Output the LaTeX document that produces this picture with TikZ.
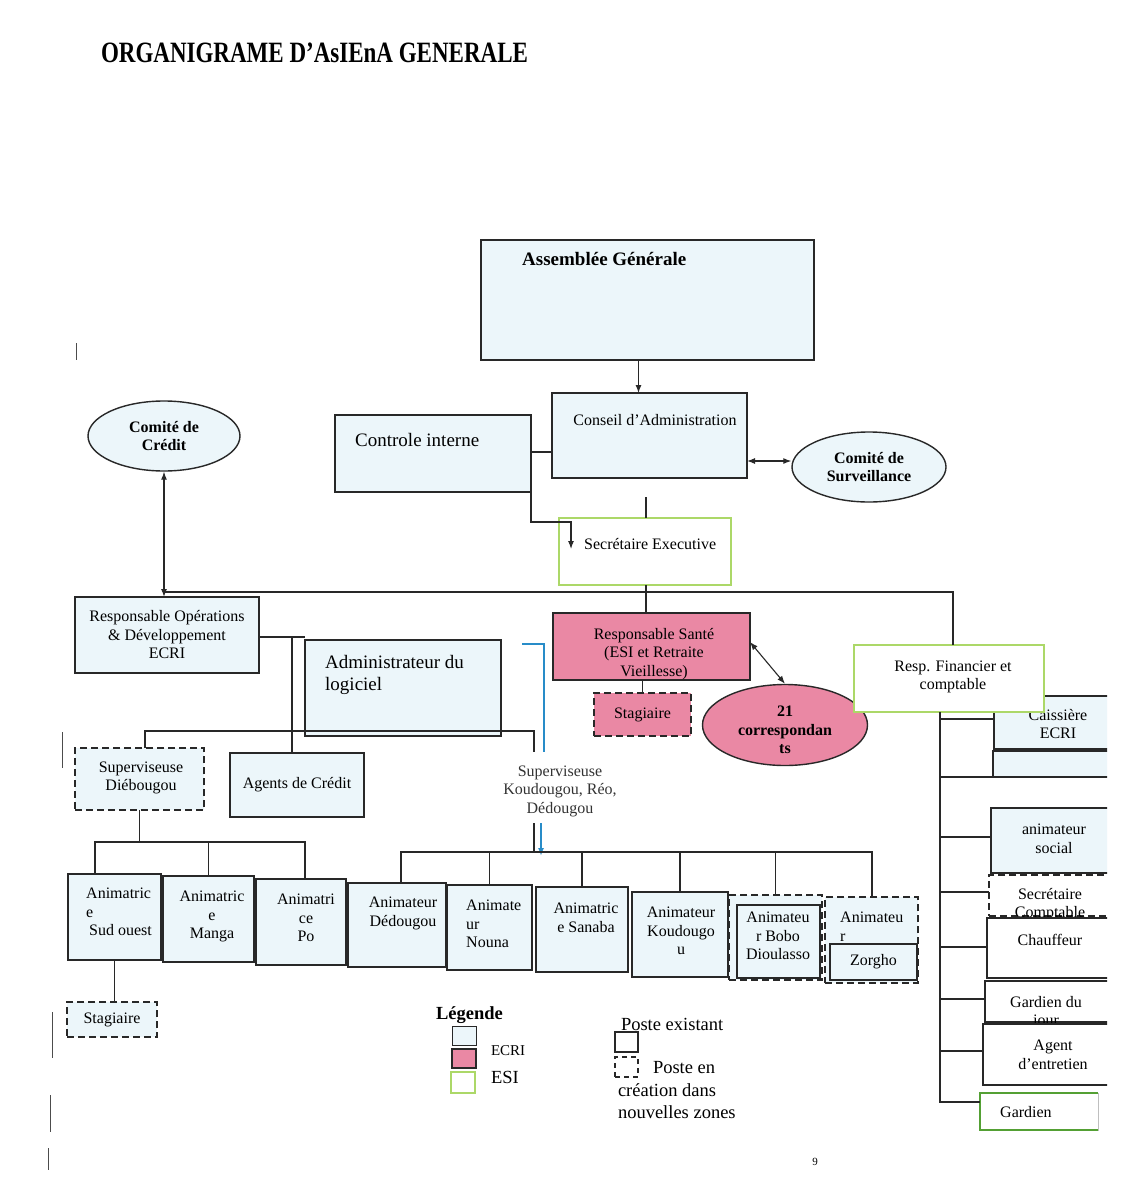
\documentclass[tikz,border=0pt]{standalone}
\usepackage{fontspec}
\setmainfont{Liberation Serif}
\usetikzlibrary{arrows.meta,shapes.geometric,fit,calc}
\definecolor{boxblue}{RGB}{236,246,250}
\definecolor{ecripink}{RGB}{234,136,164}
\definecolor{esigreen}{RGB}{172,216,104}
\definecolor{darkgreen}{RGB}{84,160,52}
\definecolor{bracketblue}{RGB}{40,140,200}
\definecolor{linegray}{RGB}{40,40,40}
\tikzset{
 base/.style={inner sep=0pt, outer sep=0pt},
 bx/.style={base, draw=linegray, line width=1.3pt, fill=boxblue},
 thickbx/.style={bx, line width=2.4pt},
 dashbx/.style={bx, dash pattern=on 7pt off 4pt},
 esibx/.style={base, draw=esigreen, line width=2.4pt, fill=white},
 pinkbx/.style={base, draw=linegray, line width=2.4pt, fill=ecripink},
 ell/.style={ellipse, draw=linegray, line width=1.4pt, fill=boxblue, inner sep=0pt},
 txt/.style={inner sep=0pt, font=\fontsize{16}{18.5}\selectfont, align=center},
 btxt/.style={txt, font=\fontsize{16}{18.5}\selectfont\bfseries},
 big/.style={txt, font=\fontsize{19}{22}\selectfont, align=left},
 con/.style={draw=linegray, line width=1.1pt},
 arr/.style={con, -{Latex[length=8pt,width=6pt]}},
 darr/.style={con, {Latex[length=8pt,width=6pt]}-{Latex[length=8pt,width=6pt]}},
 bluearr/.style={draw=bracketblue, line width=1.8pt, -{Latex[length=8pt,width=6pt]}},
 scanmark/.style={draw=black!70, line width=1pt},
}
\begin{document}
\begin{tikzpicture}[x=1pt,y=-1pt]
\useasboundingbox (0,0) rectangle (1131,1194);
\fill[white] (0,0) rectangle (1131,1194);

% margin marks
\draw[scanmark] (76,343) -- (76,360);
\draw[scanmark] (62,732) -- (62,768);
\draw[scanmark] (52,1012) -- (52,1058);
\draw[scanmark] (50,1095) -- (50,1132);
\draw[scanmark] (48,1148) -- (48,1170);

% title
\node[base, anchor=base west, font=\fontsize{29.5}{32}\selectfont\bfseries] (title) at (101,62) {\scalebox{0.78}[1]{ORGANIGRAME D’AsIEnA GENERALE}};

% top
\node[bx, fit={(481,240) (814,360)}] (AG) {};
\node[btxt, font=\fontsize{19}{22}\selectfont\bfseries, anchor=base west] (AGt) at (522,265) {Assemblée Générale};

\node[bx, fit={(552,393) (747,478)}] (CA) {};
\node[txt, anchor=base] (CAt) at (655,425) {Conseil d’Administration};

\node[thickbx, fit={(335,415) (531,492)}] (CI) {};
\node[big, anchor=base west] (CIt) at (355,446) {Controle interne};

\node[ell, minimum width=154pt, minimum height=70pt, btxt] (CS) at (869,467) {Comité de\\Surveillance};
\node[ell, minimum width=152pt, minimum height=70pt, btxt] (CC) at (164,436) {Comité de\\Crédit};

\node[esibx, fit={(559,518) (731,585)}] (SE) {};
\node[txt, anchor=base west] (SEt) at (584,549) {Secrétaire Executive};

% second level
\node[thickbx, fit={(75,597) (259,673)}] (RO) {};
\node[txt] (ROt) at (RO.center) {Responsable Opérations\\\& Développement\\ECRI};

\node[thickbx, fit={(305,640) (501,736)}] (AD) {};
\node[big, anchor=north west] (ADt) at (325,655) {Administrateur du\\logiciel};

\node[pinkbx, fit={(553,613) (750,680)}] (RS) {};
\node[txt, anchor=north] (RSt) at (654,628) {Responsable Santé\\(ESI et Retraite\\Vieillesse)};

\node[pinkbx, line width=1.6pt, dash pattern=on 7pt off 4pt, fit={(594,693) (691,736)}] (ST2) {};
\node[txt] (ST2t) at (ST2.center) {Stagiaire};

\node[ell, fill=ecripink, minimum width=165pt, minimum height=81pt] (C21) at (785,725) {};
\node[btxt, anchor=north] (C21t) at (785,706) {21\\correspondan\\ts};

% right column
\begin{scope}
\clip (0,0) rectangle (1107,1194);
\node[bx, fit={(994,696) (1125,749)}] (CE) {};
\node[txt, anchor=north] (CEt) at (1058,709) {Caissière\\ECRI};
\node[bx, fit={(993,751) (1125,777)}] (CE2) {};
\node[bx, fit={(991,808) (1125,873)}] (AS) {};
\node[txt] (ASt) at (1054,839) {animateur\\social};
\node[dashbx, fill=white, fit={(989,875) (1125,916)}] (SC) {};
\node[txt, anchor=north] (SCt) at (1050,888) {Secrétaire\\Comptable};
\node[bx, fill=white, fit={(987,918) (1125,978)}] (CH) {};
\node[txt] (CHt) at (1050,940) {Chauffeur};
\node[bx, fill=white, fit={(985,981) (1125,1022)}] (GJ) {};
\node[txt, anchor=north] (GJt) at (1046,996) {Gardien du\\jour};
\node[bx, fill=white, fit={(983,1024) (1125,1085)}] (AE) {};
\node[txt] (AEt) at (1053,1055) {Agent\\d’entretien};
\end{scope}
\node[base, draw=black!25, line width=0.8pt, fill=white, fit={(980,1093) (1098,1130)}] (GA) {};
\draw[darkgreen, line width=2.4pt] (GA.north east) -- (GA.north west) -- (GA.south west) -- (GA.south east);
\node[txt, anchor=west] (GAt) at (1000,1112) {Gardien};

\node[esibx, fit={(854,645) (1044,712)}] (RF) {};
\node[txt] (RFt) at (953,677) {Resp. Financier et\\comptable};

% third level
\node[dashbx, fit={(75,748) (204,810)}] (SD) {};
\node[txt] (SDt) at (141,778) {Superviseuse\\Diébougou};
\node[thickbx, line width=1.8pt, fit={(230,753) (364,817)}] (AC) {};
\node[txt] (ACt) at (AC.center) {Agents de Crédit};
\node[txt, text=black!80] (SK) at (560,791) {Superviseuse\\Koudougou, Réo,\\Dédougou};

% animators
\node[bx, fit={(68,874) (161,960)}] (ASO) {};
\node[txt, align=left, anchor=north west] (ASOt) at (86,888) {Animatric\\e\\\hspace{3pt}Sud ouest};
\node[bx, fit={(163,876) (254,962)}] (AMa) {};
\node[txt, anchor=north] (AMat) at (212,891) {Animatric\\e\\Manga};
\node[bx, fit={(256,879) (346,965)}] (APo) {};
\node[txt, anchor=north] (APot) at (306,894) {Animatri\\ce\\Po};
\node[bx, fit={(348,883) (446,967)}] (ADe) {};
\node[txt, anchor=north] (ADet) at (403,897) {Animateur\\Dédougou};
\node[bx, fit={(447,885) (532,970)}] (ANo) {};
\node[txt, align=left, anchor=north west] (ANot) at (466,900) {Animate\\ur\\Nouna};
\node[bx, fit={(536,887) (628,972)}] (ASa) {};
\node[txt, anchor=north] (ASat) at (586,903) {Animatric\\e Sanaba};
\node[bx, fit={(632,892) (728,977)}] (AKo) {};
\node[txt, anchor=north] (AKot) at (681,907) {Animateur\\Koudougo\\u};
\node[dashbx, fit={(729,895) (822,980)}] (ABo) {};
\node[bx, fill=none, line width=1.1pt, fit={(737,905) (820,978)}] (ABi) {};
\node[txt, anchor=north] (ABot) at (778,912) {Animateu\\r Bobo\\Dioulasso};
\node[dashbx, fit={(825,897) (918,983)}] (AZo) {};
\node[bx, line width=1.1pt, fit={(830,944) (917,980)}] (AZi) {};
\node[txt] (AZit) at (AZi.center) {Zorgho};
\node[txt, align=left, anchor=north west] (AZot) at (840,912) {Animateu\\r};

\node[dashbx, fit={(67,1002) (157,1037)}] (STL) {};
\node[txt] (STLt) at (STL.center) {Stagiaire};

% connectors
\draw[arr] ([xshift=-9pt]AG.south) -- ([xshift=-9pt]AG.south |- CA.north);
\draw[con] (CI.east |- 0,452) -- (CA.west |- 0,452);
\coordinate (seA) at (571,549);
\draw[arr] (CI.south east) -- (CI.south east |- 0,522) -| (seA);
\draw[darr] (CA.east |- 0,461) -- (CS.west |- 0,461);
\coordinate (caS) at (646,497);
\draw[con] (caS) -- (caS |- SE.north);
\coordinate (busL) at (164,592);
\coordinate (busR) at (953,592);
\draw[con] (SE.south -| caS) -- (RS.north -| caS);
\draw[con] (busL) -- (busR) -- (busR |- RF.north);
\draw[darr] (CC.south) -- (CC.south |- RO.north);
\coordinate (vA) at (292,637);
\draw[con] (RO.east |- vA) -- (AD.west |- vA);
\draw[con] (vA) -- (vA |- AC.north);
\coordinate (hL) at (145,731);
\coordinate (hR) at (534,731);
\draw[con] (hL |- SD.north) -- (hL) -- (hR) -- (hR |- 0,752);
\draw[bracketblue, line width=2.2pt] (522,644) -- (544,644) -- (544,752);
\coordinate (skB) at (534,823);
\coordinate (skC) at (541,823);
\coordinate (b2L) at (401,852);
\coordinate (b2R) at (872,852);
\draw[con] (skB) -- (skB |- b2L);
\draw[bluearr] (skC) -- (skC |- 0,856);
\draw[con] (b2L |- ADe.north) -- (b2L) -- (b2R) -- (b2R |- AZo.north);
\draw[con] (ANo.north |- b2L) -- (ANo.north);
\draw[con] (ASa.north |- b2L) -- (ASa.north);
\draw[con] (AKo.north |- b2L) -- (AKo.north);
\draw[con] (ABo.north |- b2L) -- (ABo.north);
\coordinate (b1L) at (95,842);
\coordinate (b1R) at (305,842);
\draw[con] (SD.south) -- (SD.south |- b1L);
\draw[con] (b1L |- ASO.north) -- (b1L) -- (b1R) -- (b1R |- APo.north);
\draw[con] (AMa.north |- b1L) -- (AMa.north);
\draw[con] (ASO.south) -- (ASO.south |- STL.north);
\draw[con] (ST2.north |- RS.south) -- (ST2.north);
\draw[darr] ([yshift=-29pt]RS.north east) -- (C21.north);

% right trunk
\coordinate (trB) at (940,1102);
\draw[con] (RF.south -| trB) -- (trB) -- (trB -| GA.west);
\draw[con] (trB |- 0,719) -- (CE.west |- 0,719);
\draw[con] (trB |- CE2.south) -- (CE2.south west);
\draw[con] (trB |- 0,837) -- (AS.west |- 0,837);
\draw[con] (trB |- 0,892) -- (SC.west |- 0,892);
\draw[con] (trB |- 0,947) -- (CH.west |- 0,947);
\draw[con] (trB |- 0,999) -- (GJ.west |- 0,999);
\draw[con] (trB |- 0,1051) -- (AE.west |- 0,1051);

% legend
\node[base, font=\fontsize{18.5}{20}\selectfont\bfseries, anchor=base west] (LG) at (436,1019) {Légende};
\node[bx, line width=1pt, fit={(452,1026) (476,1045)}] (L1) {};
\node[pinkbx, line width=1.8pt, fit={(452,1049) (476,1068)}] (L2) {};
\node[base, draw=esigreen, line width=1.5pt, fill=white, fit={(451,1072) (475,1093)}] (L3) {};
\node[base, font=\fontsize{15}{17}\selectfont, anchor=base west] (L1t) at (491,1055) {ECRI};
\node[base, font=\fontsize{18.5}{20}\selectfont, anchor=base west] (L3t) at (491,1083) {ESI};
\node[base, font=\fontsize{18.5}{20}\selectfont, anchor=base west] (P1t) at (621,1030) {Poste existant};
\node[bx, fill=white, line width=1.2pt, fit={(615,1032) (638,1052)}] (P1) {};
\node[dashbx, fill=white, line width=1.2pt, dash pattern=on 5pt off 4pt, fit={(615,1057) (638,1077)}] (P2) {};
\node[base, font=\fontsize{18.5}{20}\selectfont, anchor=base west] (P2t) at (653,1073) {Poste en};
\node[base, font=\fontsize{18.5}{20}\selectfont, anchor=base west] (P3t) at (618,1096) {création dans};
\node[base, font=\fontsize{18.5}{20}\selectfont, anchor=base west] (P4t) at (618,1118) {nouvelles zones};

\node[base, font=\fontsize{11}{12}\selectfont] (pg) at (815,1162) {9};
\end{tikzpicture}
\end{document}
